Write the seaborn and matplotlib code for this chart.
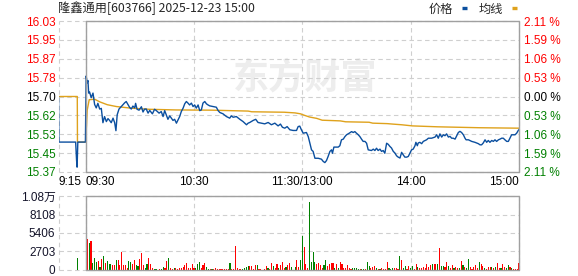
import numpy as np
import pandas as pd
import matplotlib
matplotlib.use("Agg")
import matplotlib.pyplot as plt
from matplotlib.lines import Line2D
from matplotlib.font_manager import FontProperties
import seaborn as sns

# ---------------- data ----------------
stock_title = "隆鑫通用[603766] 2025-12-23 15:00"
legend_labels = ["价格", "均线"]
watermark = "东方财富"
prev_close = 15.70
max_pct = 2.11

price_left_labels = ["16.03", "15.95", "15.87", "15.78", "15.70", "15.62", "15.53", "15.45", "15.37"]
pct_right_labels = ["2.11 %", "1.59 %", "1.06 %", "0.53 %", "0.00 %", "0.53 %", "1.06 %", "1.59 %", "2.11 %"]
time_ticks = [-15, 0, 60, 120, 180, 240]
time_labels = ["9:15", "09:30", "10:30", "11:30/13:00", "14:00", "15:00"]
vol_ticks = [0, 2703, 5406, 8108, 10811]
vol_labels = ["0", "2703", "5406", "8108", "1.08万"]

# minutes from 09:30 (pre-market 9:15 = -15)
price_minutes = [-15, -14.8, -5.5, -5.0, -4.7, -4.5, -4.3, -0.1,
    0.3, 0.9, 1.3, 1.7, 2.2, 3.1, 4.1, 5.0, 5.9, 6.8, 7.8, 8.7, 9.6, 10.5, 11.5, 12.4, 13.3, 14.2,
    15.2, 16.1, 16.8, 17.5, 18.5, 19.8, 20.7, 21.6, 22.5, 23.5, 24.4, 25.3, 26.2, 27.2, 27.7, 28.5,
    29.6, 30.9, 31.8, 32.7, 33.6, 34.6, 35.5, 37.0, 38.2, 39.2, 40.7, 41.9, 42.9, 43.8, 44.7, 45.6,
    46.6, 47.5, 48.4, 49.3, 50.3, 51.2, 52.1, 53.0, 54.0, 54.9, 55.8, 56.7, 57.6, 58.6, 59.5, 60.4,
    61.3, 62.3, 63.2, 64.1, 65.0, 66.0, 66.9, 67.8, 68.7, 70.6, 72.4, 73.4, 74.3, 76.1, 78.0, 79.8,
    80.7, 81.7, 83.5, 85.4, 87.2, 89.1, 90.0, 90.9, 92.8, 94.2, 95.5, 97.4, 99.2, 101.1, 102.9,
    104.8, 106.6, 107.9, 109.0, 110.3, 111.6, 113.1, 114.9, 116.8, 117.7, 118.6, 119.5, 120.5,
    122.3, 123.3, 124.2, 125.1, 126.0, 127.0, 128.8, 130.6, 131.6, 132.5, 133.4, 134.3, 135.3,
    136.2, 136.7, 137.5, 139.9, 140.8, 141.7, 142.7, 143.6, 144.5, 146.0, 147.3, 148.2, 149.1,
    150.0, 151.0, 151.9, 152.8, 153.7, 154.7, 155.6, 156.5, 158.3, 159.3, 160.2, 161.1, 162.0,
    163.0, 163.9, 164.8, 165.7, 166.7, 167.6, 168.5, 169.4, 170.4, 171.3, 172.2, 173.1, 174.1,
    175.0, 175.9, 176.8, 177.8, 178.7, 179.6, 180.5, 181.4, 182.4, 182.9, 183.7, 184.2, 185.1,
    186.1, 187.0, 188.8, 189.8, 191.6, 193.5, 194.4, 195.3, 196.2, 197.2, 198.1, 199.0, 199.9,
    200.9, 201.8, 202.7, 203.6, 204.6, 205.5, 206.4, 207.3, 208.2, 209.2, 210.1, 210.7, 212.0,
    213.8, 215.6, 217.5, 218.4, 219.3, 220.2, 221.2, 222.1, 223.0, 223.9, 224.9, 225.8, 226.7,
    227.6, 228.6, 229.5, 230.4, 231.3, 232.2, 233.2, 234.1, 235.0, 235.9, 237.8, 238.7, 239.6, 240]
price_values = [15.70, 15.50, 15.50, 15.42, 15.39, 15.44, 15.50, 15.50,
    15.79, 15.76, 15.77, 15.715, 15.72, 15.695, 15.715, 15.665, 15.65, 15.67, 15.645, 15.648, 15.585,
    15.612, 15.59, 15.603, 15.595, 15.585,
    15.605, 15.585, 15.55, 15.62, 15.645, 15.656, 15.664, 15.672, 15.678, 15.664, 15.652, 15.645,
    15.658, 15.65, 15.67, 15.644,
    15.64, 15.655, 15.632, 15.645, 15.645, 15.627, 15.639, 15.624, 15.644, 15.638, 15.627, 15.634,
    15.612, 15.638, 15.619, 15.60,
    15.615, 15.605, 15.595, 15.60, 15.583, 15.598, 15.612, 15.634, 15.649, 15.668, 15.678, 15.671,
    15.663, 15.671, 15.656, 15.663,
    15.649, 15.663, 15.638, 15.641, 15.671, 15.678, 15.668, 15.663, 15.659, 15.656, 15.653, 15.638,
    15.63, 15.624, 15.612, 15.605,
    15.615, 15.609, 15.612, 15.60, 15.59, 15.576, 15.583, 15.586, 15.595, 15.60, 15.586, 15.583,
    15.58, 15.586, 15.576,
    15.583, 15.571, 15.579, 15.565, 15.561, 15.568, 15.554, 15.551, 15.551, 15.568, 15.57, 15.554,
    15.539,
    15.542, 15.524, 15.495, 15.466, 15.459, 15.429, 15.429, 15.425, 15.415, 15.41, 15.419, 15.437,
    15.459,
    15.466, 15.451, 15.478, 15.478, 15.484, 15.51, 15.513, 15.524, 15.532, 15.539, 15.546, 15.542,
    15.546,
    15.539, 15.532, 15.524, 15.513, 15.503, 15.503, 15.495, 15.466, 15.463, 15.469, 15.463, 15.473,
    15.463,
    15.469, 15.459, 15.463, 15.451, 15.495, 15.49, 15.481, 15.474, 15.459, 15.452, 15.44, 15.434,
    15.43,
    15.455, 15.444, 15.434, 15.434, 15.437, 15.452, 15.466, 15.469, 15.484, 15.499, 15.484, 15.496,
    15.499,
    15.493, 15.503, 15.51, 15.517, 15.517, 15.522, 15.532, 15.517, 15.536, 15.522, 15.532, 15.528,
    15.536,
    15.522, 15.525, 15.517, 15.517, 15.513, 15.528, 15.542, 15.547, 15.542, 15.532, 15.517, 15.51,
    15.51,
    15.503, 15.499, 15.493, 15.488, 15.488, 15.496, 15.51, 15.499, 15.507, 15.499, 15.507, 15.503,
    15.51,
    15.503, 15.51, 15.513, 15.517, 15.517, 15.51, 15.503, 15.503, 15.517, 15.532, 15.532, 15.539,
    15.551, 15.555]

avg_minutes = [-15, -4.6, -4.5, 0, 0.5, 0.9, 2, 5, 8, 12, 17, 25, 35, 50, 70, 90, 92, 110, 116,
               119, 121, 124, 128, 131, 141, 144, 157, 159, 167, 170, 175, 181, 195, 218, 240]
avg_values = [15.70, 15.70, 15.50, 15.50, 15.57, 15.64, 15.686, 15.688, 15.676, 15.664, 15.656,
              15.649, 15.644, 15.641, 15.640, 15.636, 15.633, 15.631, 15.628, 15.624, 15.618,
              15.61, 15.604, 15.596, 15.593, 15.589, 15.587, 15.583, 15.581, 15.579, 15.576,
              15.571, 15.567, 15.563, 15.561]

auction_minute = [-4.3]
auction_volume = [1802]
auction_dir = ["g"]

# one value per minute 0..240 (09:30 .. 15:00)
volume = [
    0, 4529, 3896, 4237, 974, 1705, 1120, 1315, 487, 1607,
    2045, 974, 1315, 877, 828, 731, 731, 1461, 1461, 731,
    2581, 731, 731, 341, 1315, 1120, 828, 1461, 731, 633,
    1607, 2435, 731, 244, 828, 1802, 828, 244, 146, 146,
    0, 146, 146, 487, 341, 1315, 1705, 244, 146, 341,
    244, 146, 341, 244, 487, 731, 974, 341, 244, 828,
    244, 244, 828, 1218, 244, 731, 974, 487, 146, 146,
    146, 146, 244, 146, 146, 146, 146, 146, 146, 146,
    974, 146, 146, 3506, 244, 146, 146, 146, 341, 487,
    633, 633, 633, 146, 731, 731, 146, 146, 0, 146,
    633, 341, 146, 974, 633, 341, 828, 244, 731, 1120,
    341, 487, 731, 974, 487, 0, 487, 1461, 487, 1461,
    4967, 3409, 828, 244, 9886, 1120, 2581, 1218, 828, 974,
    731, 341, 731, 1461, 633, 828, 974, 974, 341, 828,
    244, 1120, 828, 244, 244, 731, 244, 146, 244, 341,
    341, 146, 146, 146, 146, 146, 1120, 633, 244, 487,
    633, 341, 146, 146, 244, 146, 146, 1120, 244, 146,
    341, 341, 341, 146, 2045, 1461, 341, 633, 146, 633,
    341, 633, 146, 828, 487, 341, 244, 487, 341, 828,
    487, 731, 828, 828, 828, 828, 3263, 633, 633, 487,
    1218, 633, 244, 731, 341, 487, 244, 341, 1315, 731,
    487, 244, 1607, 487, 146, 487, 731, 341, 1120, 828,
    633, 341, 146, 487, 487, 487, 341, 487, 974, 244,
    244, 828, 487, 244, 731, 487, 244, 146, 146, 146, 974]
volume_dir = list(
    "rrgrgggrgr" "grgggrrgrr" "rrrrggrrgg" "rrrggrrrgg" "rrggrrgrrg"
    "rrrrrrrrrr" "rgggrrrggr" "grrrrrrrrr" "grrrrrrggg" "grrrrgrrrr"
    "rgrrgrrgrr" "rgrrgrgrrg" "grrrggggrr" "rrggrrrrgr" "grrrrrrrgg"
    "ggrggrggrr" "rgrgrrrrgg" "grrrgrggrr" "ggrrgrrrrr" "rrgrrgrggr"
    "rgrrgrrgrg" "rggrrrrrgr" "rgrrrgrgrr" "grrggrgrrrr")

# ---------------- style ----------------
BLUE = "#0B4F9F"
ORANGE = "#DFA21C"
RED = "#FF0000"
GREEN = "#008000"
FRAME = "#A0A0A0"
GRID = "#CFCFCF"
DASH = (0, (4, 3))

sns.set_theme(style="white")
plt.rcParams['font.family'] = ['Liberation Sans', 'Noto Sans CJK SC', 'DejaVu Sans']
plt.rcParams['font.size'] = 8.5
cjk = ['Noto Sans CJK SC', 'DejaVu Sans']

W, H = 578, 276
fig = plt.figure(figsize=(W / 100, H / 100), dpi=100)
L = 58.5 / W
WD = 460.5 / W
ax = fig.add_axes([L, (H - 172) / H, WD, 151 / H])
axv = fig.add_axes([L, (H - 270) / H, WD, 74 / H])

ymin = prev_close * (1 - max_pct / 100)
ymax = prev_close * (1 + max_pct / 100)
price_ticks = np.linspace(ymax, ymin, len(price_left_labels))

# ---------------- price panel ----------------
df_avg = pd.DataFrame({"minute": avg_minutes, "price": avg_values})
df_price = pd.DataFrame({"minute": price_minutes, "price": price_values})
sns.lineplot(data=df_avg, x="minute", y="price", sort=False, estimator=None,
             color=ORANGE, lw=1.0, ax=ax, zorder=4)
sns.lineplot(data=df_price, x="minute", y="price", sort=False, estimator=None,
             color=BLUE, lw=1.0, ax=ax, zorder=5)

ax.text((305 - 58.5) / 460.5, 1 - (78 - 21) / 151, watermark, transform=ax.transAxes,
        ha="center", va="center", fontsize=26, fontweight="bold", color="#EDEDED",
        family=cjk, zorder=0)

ax.set_xlim(time_ticks[0], time_ticks[-1])
ax.set_ylim(ymin, ymax)
ax.set_yticks(price_ticks)
ax.set_yticklabels(price_left_labels)
ax.set_xticks(time_ticks)
ax.set_xticklabels(time_labels)
ax.set_xlabel("")
ax.set_ylabel("")
ax.tick_params(axis="y", length=0, pad=2.2, labelsize=8.5)
ax.tick_params(axis="x", length=0, pad=2.6, labelsize=8.5, colors="black")
label_colors = [RED] * 4 + ["black"] + [GREEN] * 4
for t, c in zip(ax.get_yticklabels(), label_colors):
    t.set_color(c)
xtl = ax.get_xticklabels()
xtl[0].set_ha("left")
xtl[1].set_ha("left")
xtl[-1].set_ha("right")

ax_r = ax.twinx()
ax_r.set_ylim(ymin, ymax)
ax_r.set_yticks(price_ticks)
ax_r.set_yticklabels(pct_right_labels)
ax_r.tick_params(axis="y", length=0, pad=3.6, labelsize=8.5)
for t, c in zip(ax_r.get_yticklabels(), label_colors):
    t.set_color(c)
ax_r.grid(False)

# ---------------- volume panel ----------------
df_vol = pd.DataFrame({"minute": list(range(len(volume))), "volume": volume, "dir": volume_dir})
df_vol = pd.concat([pd.DataFrame({"minute": auction_minute, "volume": auction_volume,
                                  "dir": auction_dir}), df_vol[df_vol["volume"] > 0]],
                   ignore_index=True)
sns.barplot(data=df_vol, x="minute", y="volume", hue="dir", palette={"r": RED, "g": GREEN},
            native_scale=True, width=0.62, dodge=False, errorbar=None, legend=False,
            saturation=1, linewidth=0, orient="x", ax=axv, zorder=2)
axv.set_xlim(time_ticks[0], time_ticks[-1])
axv.set_ylim(vol_ticks[0], vol_ticks[-1])
axv.set_yticks(vol_ticks)
axv.set_yticklabels(vol_labels)
axv.set_xticks(time_ticks)
axv.set_xticklabels([])
axv.set_xlabel("")
axv.set_ylabel("")
axv.tick_params(axis="y", length=0, pad=2.2, labelsize=8.5, colors="#14142a")
axv.tick_params(axis="x", length=0)

# ---------------- grids & frames ----------------
for a, lo, hi in [(ax, ymin, ymax), (axv, vol_ticks[0], vol_ticks[-1])]:
    for s in a.spines.values():
        s.set_visible(False)
    a.set_axisbelow(True)
    a.grid(True, axis="both", color=GRID, lw=0.8, ls=DASH)
    for gl in a.get_xgridlines() + a.get_ygridlines():
        gl.set_clip_on(False)
    a.axvline(0, color=FRAME, lw=1.0, zorder=6, clip_on=False)
    a.axvline(time_ticks[-1], color=FRAME, lw=1.0, zorder=6, clip_on=False)
    a.hlines([lo, hi], 0, time_ticks[-1], colors=FRAME, lw=1.0, zorder=6, clip_on=False)
for s in ax_r.spines.values():
    s.set_visible(False)

# ---------------- title & legend ----------------
fig.text(58 / W, 1 - 8.5 / H, stock_title, ha="left", va="center", fontsize=8.8, family=cjk)
handles = [Line2D([], [], color=BLUE, lw=2.4, solid_capstyle="butt"),
           Line2D([], [], color=ORANGE, lw=2.4, solid_capstyle="butt")]
fig.legend(handles, legend_labels, loc="center right", bbox_to_anchor=(517 / W, 1 - 9 / H),
           ncol=2, frameon=False, markerfirst=False, handlelength=0.4, handletextpad=0.7,
           columnspacing=1.0, borderpad=0, borderaxespad=0,
           prop=FontProperties(family=cjk, size=8.8))

fig.savefig("out.png", dpi=100)
